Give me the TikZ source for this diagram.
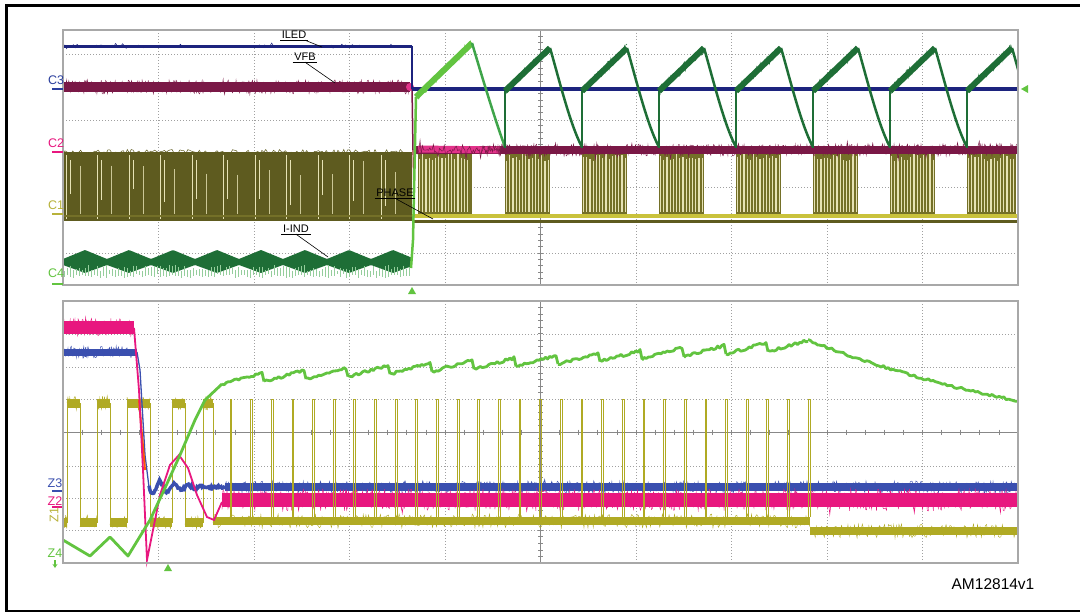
\documentclass[tikz,border=0pt]{standalone}
\usepackage{fontspec}
\setmainfont{Liberation Sans}
\usetikzlibrary{calc,arrows.meta}
\definecolor{navyc}{HTML}{1C237E}
\definecolor{c3lab}{HTML}{2B3F9E}
\definecolor{maroonc}{HTML}{7A1846}
\definecolor{vfbpink}{HTML}{E2338A}
\definecolor{olivedk}{HTML}{5E5B1F}
\definecolor{olivemd}{HTML}{747028}
\definecolor{cream}{HTML}{E6E2B4}
\definecolor{yellowc}{HTML}{C9C23C}
\definecolor{dgreen}{HTML}{1E6E36}
\definecolor{mgreen}{HTML}{3FA54A}
\definecolor{lgreen}{HTML}{62C440}
\definecolor{pinkc}{HTML}{E8177F}
\definecolor{bluec}{HTML}{3A4FAF}
\definecolor{olivec}{HTML}{B0AA24}
\definecolor{c1lab}{HTML}{B8B23A}
\definecolor{gridc}{HTML}{A0A0A0}
\definecolor{framec}{HTML}{A8A8A8}
\tikzset{
  gridline/.style={gridc, line width=0.7, dash pattern=on 1pt off 2pt},
  axisline/.style={gridc!85!black, line width=0.8},
  plotframe/.style={framec, line width=1.4},
  annot/.style={font=\fontsize{11}{12}\selectfont, inner xsep=1.5pt, inner ysep=1.2pt},
  annline/.style={black, line width=0.6},
  chlab/.style={font=\fontsize{12.5}{13}\selectfont, inner sep=0pt},
  chmark/.style={line width=1.6},
  fuzz/.style={line width=0.5},
}
\begin{document}
\begin{tikzpicture}[x=1pt,y=-1pt]
\pgfmathsetseed{7}
\useasboundingbox (0,0) rectangle (1080,613);
\fill[white] (0,0) rectangle (1080,613);
% outer border
\draw[black, line width=2.4] (1080,5.5) -- (6.3,5.5) -- (6.3,611) -- (1080,611);

% ================= TOP PLOT =================
\foreach \k in {1,2,3,4,6,7,8,9} \draw[gridline] ({63+95.5*\k},30) -- ({63+95.5*\k},285);
\foreach \y in {54,120,187,253} \draw[gridline] (63,\y) -- (1018,\y);
\draw[axisline] (540.5,30) -- (540.5,285);
\foreach \k in {1,...,39} \draw[axisline] (538,{30+6.375*\k}) -- (543,{30+6.375*\k});

% PHASE (olive) before switch-off
\fill[olivedk] (63,152) rectangle (412,221);
\draw[olivedk, fuzz] plot[domain=63:412, samples=180] (\x,{152+2.5*rand});
\foreach \k in {0,...,10} {
  \draw[cream, line width=1] ({66+31.5*\k},155) -- ({66+31.5*\k},219);
  \draw[cream, line width=0.8] ({70+31.5*\k},160) -- ({70+31.5*\k},{200+15*rand});
  \draw[cream!80!olivedk, line width=0.6] ({80+31.5*\k},{168+8*rand}) -- ({80+31.5*\k},214);
}
\draw[olivemd, line width=2] (63,216) -- (412,216);
% PHASE after
\draw[olivedk, line width=3] (412,221) -- (1018,221);
\foreach \a/\b in {418/472,505/550,582/627,659/704,736/781,813/858,890/935,967/1016} {
  \fill[olivemd] (\a,152) rectangle (\b,216);
  \pgfmathtruncatemacro\n{(\b-\a)/3.2-1}
  \foreach \k in {0,...,\n} \draw[cream, line width=1.1] ({\a+1.6+3.2*\k},{157+4*rand}) -- ({\a+1.6+3.2*\k},212);
}
\draw[yellowc, line width=3.5] (412,216) -- (1018,216);

% VFB
\draw[maroonc, line width=10] (63,87) -- (410,87);
\draw[maroonc, line width=0.4] plot[domain=63:410, samples=400] (\x,{87+7*rand});
\draw[maroonc, fuzz] plot[domain=63:410, samples=300] (\x,{87+11*rand*rand*rand});
\fill[vfbpink] (410,87) circle (4);
\draw[maroonc, line width=1.5] (412,87) -- (413,150);
\draw[maroonc!70!red, line width=1.2] (413,150) -- (414,200);
\draw[maroonc, line width=8] (414,150) -- (1018,150);
\draw[vfbpink, line width=7] (418,149) -- (500,150);
\draw[maroonc, line width=0.4] plot[domain=480:1018, samples=600] (\x,{150+6*rand});
\draw[maroonc, fuzz] plot[domain=414:1018, samples=500] (\x,{150+12*rand*rand*rand});

% ILED
\draw[navyc, line width=3] (63,46) -- (412,46);
\draw[navyc, fuzz] plot[domain=63:412, samples=200] (\x,{46+4*rand*rand*rand});
\draw[navyc, line width=1.3] (412,46) -- (412,89);
\draw[navyc, line width=3.5] (412,89) -- (1018,89);

% I-IND
\fill[dgreen] plot[domain=63:411, samples=240] (\x,{259-9*(1-abs(2*mod(\x-63,44)/44-1))})
  -- plot[domain=411:63, samples=240] (\x,{265+8*(1-abs(2*mod(\x-63,44)/44-1))}) -- cycle;
\foreach \k in {0,...,115} \draw[mgreen!55!white, line width=0.7] ({64+3*\k},{268+3*rand}) -- ({64+3*\k},{276+2*rand});
\draw[lgreen, line width=2.5] (411,268) -- (413,240) -- (416,97);
\draw[lgreen, line width=6] (416,97) -- (472,43);
\draw[lgreen, fuzz] plot[domain=416:472, samples=40] (\x,{97-54*(\x-416)/56+5*rand});
\draw[mgreen, line width=2.5] (472,43) .. controls (480,70) and (495,120) .. (505,147);
\begin{scope}
\clip (63,25) rectangle (1018,285);
\foreach \k in {0,...,6} {
  \pgfmathsetmacro\s{505+77*\k}
  \pgfmathsetmacro\p{\s+45}
  \pgfmathsetmacro\ns{\s+77}
  \draw[dgreen, line width=1.2] (\s,148) -- (\s,91);
  \draw[dgreen, line width=6] (\s,91) -- (\p,48);
  \draw[dgreen, fuzz] plot[domain=\s:\p, samples=40] (\x,{91-43*(\x-\s)/45+5*rand});
  \draw[dgreen, line width=2.5] (\p,48) .. controls (\p+8,75) and (\ns-12,125) .. (\ns,147);
}
\end{scope}
\draw[plotframe] (63,30) rectangle (1018,285);

% annotations
\node[annot] (iled) at (294,35) {ILED};
\coordinate (iledtip) at (322,47);
\draw[annline] (iled.south west) -- (iled.south east);
\draw[annline] ($(iled.south east)+(-3,0)$) -- (iledtip);
\node[annot] (vfb) at (305,57) {VFB};
\coordinate (vfbtip) at (335,83);
\draw[annline] (vfb.south west) -- (vfb.south east);
\draw[annline] (vfb.south) -- (vfbtip);
\node[annot] (phase) at (395,193) {PHASE};
\coordinate (phasetip) at (433,219);
\draw[annline] (phase.south west) -- (phase.south east);
\draw[annline] (phase.south) -- (phasetip);
\node[annot] (iind) at (296,229) {I-IND};
\coordinate (iindtip) at (328,257);
\draw[annline] (iind.south west) -- (iind.south east);
\draw[annline] (iind.south) -- (iindtip);

% channel labels top
\node[chlab, text=c3lab] (c3) at (56,80) {C3};
\draw[chmark, c3lab] (52,89) -- (63,89);
\node[chlab, text=pinkc] (c2) at (56,143) {C2};
\draw[chmark, pinkc] (52,152) -- (63,152);
\node[chlab, text=c1lab] (c1) at (56,205) {C1};
\draw[chmark, c1lab] (52,214) -- (63,214);
\node[chlab, text=lgreen] (c4) at (56,273) {C4};
\draw[chmark, lgreen] (52,284) -- (63,284);
% trigger markers
\fill[lgreen] (1021,89) -- (1028,85) -- (1028,93) -- cycle;
\fill[lgreen] (412,287) -- (408,294) -- (416,294) -- cycle;

% ================= BOTTOM PLOT =================
\foreach \k in {1,2,3,4,6,7,8,9} \draw[gridline] ({63+95.5*\k},301) -- ({63+95.5*\k},563);
\foreach \y in {334,367,399,466,498,530} \draw[gridline] (63,\y) -- (1018,\y);
\draw[axisline] (540.5,301) -- (540.5,563);
\draw[axisline] (63,432) -- (1018,432);
\foreach \k in {1,...,49} \draw[axisline] ({63+19.1*\k},429.5) -- ({63+19.1*\k},434.5);
\foreach \k in {1,...,39} \draw[axisline] (538,{301+6.55*\k}) -- (543,{301+6.55*\k});

% olive square wave
\draw[olivec, line width=1] (63,522) -- (67,522) -- (67,403) -- (80,403) -- (80,522) -- (97,522) -- (97,403) -- (110,403) -- (110,522) -- (127,522) -- (127,403) -- (150,403) -- (150,522) -- (172,522) -- (172,403) -- (185,403) -- (185,522) -- (203,522) -- (203,403) -- (213,403) -- (213,522);
\foreach \a/\b in {67/80,97/110,127/150,172/185,203/213} {
  \draw[olivec, line width=9] (\a,403) -- (\b,403);
  \draw[olivec, fuzz] plot[domain=\a:\b, samples=15] (\x,{403+7*rand});
}
\foreach \a/\b in {63/67,80/97,110/127,150/172,185/203} {
  \draw[olivec, line width=9] (\a,522) -- (\b,522);
  \draw[olivec, fuzz] plot[domain=\a:\b, samples=15] (\x,{522+7*rand});
}
\draw[olivec, line width=8] (213,521) -- (810,521);
\draw[olivec, line width=8] (810,531) -- (1018,531);
\draw[olivec, line width=0.4] plot[domain=213:810, samples=450] (\x,{521+7*rand});
\draw[olivec, line width=0.4] plot[domain=810:1018, samples=160] (\x,{531+7*rand});

% blue
\draw[bluec, line width=7] (63,352) -- (137,352);
\draw[bluec, line width=0.4] plot[domain=63:137, samples=90] (\x,{352+6*rand});
\draw[bluec, fuzz] plot[domain=63:137, samples=60] (\x,{352+10*rand*rand*rand});
\draw[bluec, line width=1.3] (137,352) -- (140,370) -- (145,455) -- (149,487);
\draw[bluec, line width=3.5] plot[domain=149:225, samples=80] (\x,{487+9*exp(-(\x-149)/25)*sin((\x-149)*25)+1.5*rand});
\draw[bluec, line width=8] (225,487) -- (1018,487);
\draw[bluec, line width=0.4] plot[domain=225:1018, samples=700] (\x,{487+6*rand});
\draw[bluec, fuzz] plot[domain=225:1018, samples=450] (\x,{487+10*rand*rand*rand});

% pink
\draw[pinkc, line width=13] (63,327) -- (134,327);
\draw[pinkc, line width=0.4] plot[domain=63:134, samples=90] (\x,{327+9*rand});
\draw[pinkc, fuzz] plot[domain=63:134, samples=70] (\x,{327+14*rand*rand*rand});
\draw[orange!70!red, line width=2] (139,400) -- (145,470);
\draw[pinkc, line width=1.8] (134,328) -- (139,390) -- (143,470) -- (147,560) -- (151,540) -- (160,495) -- (170,465) -- (179,455) -- (188,468) -- (197,495) -- (207,517) -- (214,520) -- (222,502);
\draw[pinkc, line width=14] (222,500) -- (1018,500);
\draw[pinkc, line width=0.4] plot[domain=222:1018, samples=800] (\x,{500+11*rand});
\draw[pinkc, fuzz] plot[domain=222:1018, samples=500] (\x,{500+16*rand*rand*rand});

% olive spikes
\foreach \k in {0,...,28} {
  \pgfmathsetmacro\xs{230+20.65*\k}
  \draw[olivec, line width=0.9] (\xs,517) -- (\xs,399) -- (\xs+1.8,399) -- (\xs+1.8,517);
}

% green
\draw[lgreen, line width=2.8, line join=round] (63,540) -- (90,556) -- (110,537) -- (128,556) -- (150,520) -- (165,488) -- (180,455) -- (195,420) -- (205,400) -- (222,384);
\foreach \k in {0,...,12} {
  \pgfmathsetmacro\a{222+42*\k}
  \pgfmathsetmacro\yo{384-2.5*\k}
  \draw[lgreen, line width=2.8, line join=round] plot[domain=\a:\a+40, samples=20] (\x,{\yo-11*(\x-\a)/40+1.4*rand}) -- (\a+42,\yo-2.5);
}
\draw[lgreen, line width=2.8, line join=round] plot[domain=768:808, samples=20] (\x,{351.5-11*(\x-768)/40+1.4*rand});
\draw[lgreen, line width=2.8, line join=round] plot[domain=808:1018, samples=90] (\x,{340.5+0.38*(\x-808)-4.4*((\x-808)/100)*((\x-808)/100)+1.2*rand});

\draw[plotframe] (63,301) rectangle (1018,563);

% channel labels bottom
\node[chlab, text=bluec] (z3) at (55,483) {Z3};
\draw[chmark, bluec] (52,491) -- (62,491);
\node[chlab, text=pinkc] (z2) at (55,501) {Z2};
\draw[chmark, pinkc] (52,507) -- (62,507);
\node[chlab, text=c1lab, rotate=90] (z1) at (54,515) {Z1};
\node[chlab, text=lgreen] (z4) at (55,553) {Z4};
\draw[lgreen, line width=1.3, -{Stealth[length=4pt,width=5pt]}] (55,560) -- (55,568);
\fill[lgreen] (168,564) -- (164,571) -- (172,571) -- cycle;

\node[font=\fontsize{15.5}{17}\selectfont, inner sep=0pt] (amid) at (993,584) {AM12814v1};
\end{tikzpicture}
\end{document}
